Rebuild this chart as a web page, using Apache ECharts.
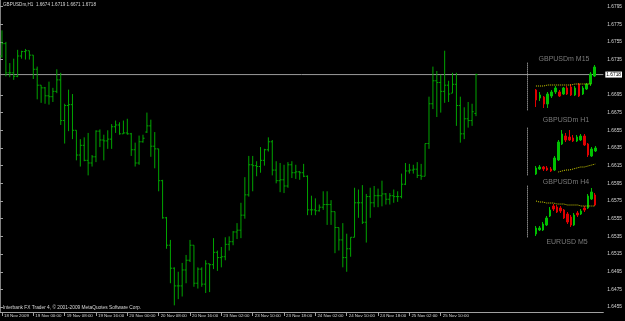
<!DOCTYPE html>
<html><head><meta charset="utf-8">
<script src="https://cdn.jsdelivr.net/npm/echarts@6/dist/echarts.min.js"></script>
<style>html,body{margin:0;padding:0;background:#000;}#c{width:625px;height:321px;}</style>
</head><body><div id="c"></div>
<script>
const symbolName = 'GBPUSDm,H1';
const tickLabels = ["18 Nov 2009","19 Nov 00:00","19 Nov 08:00","19 Nov 16:00","20 Nov 00:00","20 Nov 08:00","20 Nov 16:00","23 Nov 02:00","23 Nov 10:00","23 Nov 18:00","24 Nov 02:00","24 Nov 10:00","24 Nov 18:00","25 Nov 02:00","25 Nov 10:00","25 Nov 18:00"];
const priceTicks = [1.6795,1.6775,1.6755,1.6735,1.6695,1.6675,1.6655,1.6635,1.6615,1.6595,1.6575,1.6555,1.6535,1.6515,1.6495,1.6475,1.6455];

const open = [1.6739,1.6753,1.6720,1.6720,1.6716,1.6739,1.6744,1.6745,1.6740,1.6724,1.6706,1.6703,1.6694,1.6693,1.6699,1.6712,1.6666,1.6683,1.6684,1.6655,1.6627,1.6638,1.6621,1.6618,1.6625,1.6654,1.6644,1.6643,1.6645,1.6659,1.6661,1.6651,1.6652,1.6651,1.6633,1.6618,1.6642,1.6653,1.6660,1.6637,1.6634,1.6598,1.6556,1.6525,1.6499,1.6479,1.6479,1.6497,1.6508,1.6525,1.6482,1.6498,1.6481,1.6504,1.6503,1.6517,1.6511,1.6512,1.6526,1.6529,1.6540,1.6542,1.6559,1.6582,1.6616,1.6615,1.6614,1.6621,1.6633,1.6642,1.6610,1.6598,1.6599,1.6592,1.6616,1.6607,1.6608,1.6607,1.6603,1.6565,1.6565,1.6564,1.6568,1.6571,1.6571,1.6563,1.6545,1.6531,1.6511,1.6521,1.6534,1.6573,1.6573,1.6551,1.6580,1.6573,1.6581,1.6581,1.6583,1.6577,1.6581,1.6580,1.6580,1.6594,1.6609,1.6610,1.6611,1.6604,1.6603,1.6640,1.6685,1.6711,1.6709,1.6699,1.6706,1.6697,1.6707,1.6683,1.6651,1.6668,1.6666,1.6674];
const high = [1.6768,1.6755,1.6731,1.6736,1.6746,1.6745,1.6747,1.6745,1.6740,1.6727,1.6706,1.6704,1.6710,1.6703,1.6724,1.6720,1.6685,1.6701,1.6696,1.6655,1.6645,1.6647,1.6652,1.6627,1.6655,1.6656,1.6650,1.6655,1.6662,1.6666,1.6664,1.6666,1.6668,1.6652,1.6641,1.6649,1.6650,1.6675,1.6667,1.6653,1.6634,1.6599,1.6557,1.6531,1.6500,1.6495,1.6505,1.6514,1.6531,1.6525,1.6500,1.6500,1.6508,1.6504,1.6533,1.6519,1.6523,1.6534,1.6535,1.6541,1.6550,1.6573,1.6602,1.6626,1.6626,1.6620,1.6636,1.6634,1.6647,1.6644,1.6620,1.6618,1.6616,1.6619,1.6620,1.6616,1.6609,1.6617,1.6604,1.6581,1.6578,1.6571,1.6586,1.6586,1.6576,1.6563,1.6545,1.6550,1.6538,1.6534,1.6590,1.6588,1.6593,1.6583,1.6590,1.6592,1.6589,1.6598,1.6584,1.6584,1.6588,1.6586,1.6606,1.6618,1.6617,1.6616,1.6619,1.6617,1.6640,1.6693,1.6727,1.6722,1.6718,1.6745,1.6711,1.6720,1.6720,1.6693,1.6681,1.6687,1.6685,1.6719];
const low = [1.6737,1.6716,1.6715,1.6712,1.6715,1.6736,1.6735,1.6735,1.6713,1.6690,1.6686,1.6685,1.6684,1.6687,1.6697,1.6661,1.6640,1.6654,1.6645,1.6621,1.6614,1.6620,1.6604,1.6614,1.6619,1.6636,1.6621,1.6634,1.6634,1.6652,1.6650,1.6651,1.6650,1.6626,1.6614,1.6616,1.6641,1.6652,1.6625,1.6612,1.6586,1.6555,1.6521,1.6482,1.6457,1.6464,1.6467,1.6482,1.6506,1.6478,1.6476,1.6478,1.6471,1.6472,1.6498,1.6496,1.6500,1.6508,1.6519,1.6525,1.6532,1.6533,1.6555,1.6580,1.6586,1.6603,1.6607,1.6615,1.6631,1.6604,1.6595,1.6585,1.6584,1.6590,1.6601,1.6600,1.6599,1.6602,1.6559,1.6559,1.6559,1.6563,1.6565,1.6548,1.6548,1.6516,1.6519,1.6500,1.6495,1.6512,1.6534,1.6556,1.6549,1.6528,1.6556,1.6568,1.6568,1.6569,1.6571,1.6571,1.6573,1.6574,1.6578,1.6593,1.6606,1.6606,1.6601,1.6599,1.6603,1.6634,1.6679,1.6670,1.6675,1.6686,1.6687,1.6697,1.6660,1.6641,1.6645,1.6658,1.6660,1.6671];
const close = [1.6753,1.6720,1.6720,1.6716,1.6739,1.6744,1.6745,1.6740,1.6724,1.6706,1.6703,1.6694,1.6693,1.6699,1.6712,1.6666,1.6683,1.6684,1.6655,1.6627,1.6638,1.6621,1.6618,1.6625,1.6654,1.6644,1.6643,1.6645,1.6659,1.6661,1.6651,1.6652,1.6651,1.6633,1.6618,1.6642,1.6646,1.6660,1.6637,1.6634,1.6598,1.6556,1.6525,1.6499,1.6479,1.6479,1.6497,1.6508,1.6525,1.6482,1.6498,1.6481,1.6504,1.6503,1.6517,1.6511,1.6512,1.6526,1.6529,1.6540,1.6542,1.6559,1.6582,1.6616,1.6615,1.6614,1.6621,1.6633,1.6642,1.6610,1.6598,1.6599,1.6592,1.6616,1.6607,1.6608,1.6607,1.6603,1.6565,1.6565,1.6564,1.6568,1.6571,1.6571,1.6563,1.6545,1.6531,1.6511,1.6521,1.6534,1.6573,1.6573,1.6551,1.6580,1.6573,1.6581,1.6581,1.6583,1.6577,1.6581,1.6580,1.6580,1.6594,1.6609,1.6610,1.6611,1.6604,1.6603,1.6640,1.6685,1.6711,1.6709,1.6699,1.6706,1.6696,1.6707,1.6683,1.6651,1.6668,1.6666,1.6676,1.6718];

// mini charts (indicator panel)
const m15Open  = [1.6695,1.6687,1.6688,1.6681,1.6689,1.6693,1.6693,1.6691,1.6697,1.6698,1.6690,1.6701,1.6691,1.6696,1.6701,1.6709];
const m15Close = [1.6685,1.6690,1.6681,1.6691,1.6693,1.6697,1.6689,1.6697,1.6691,1.6690,1.6697,1.6689,1.6697,1.6701,1.6711,1.6718];
const m15Low   = [1.6678,1.6684,1.6677,1.6677,1.6687,1.6691,1.6688,1.6690,1.6690,1.6689,1.6689,1.6688,1.6690,1.6695,1.6699,1.6708];
const m15High  = [1.6696,1.6693,1.6689,1.6693,1.6695,1.6699,1.6695,1.6698,1.6699,1.6701,1.6699,1.6702,1.6699,1.6702,1.6713,1.6720];
const m15MA    = [1.6699,1.6699,1.6699,1.6700,1.6700,1.6700,1.6700,1.6700,1.6700,1.6700,1.6701,1.6701,1.6701,1.6701,1.6701,null];

const h1Open  = [1.6706,1.6711,1.6713,1.6712,1.6711,1.6710,1.6720,1.6736,1.6744,1.6743,1.6742,1.6739,1.6740,1.6744,1.6736,1.6724,1.6729];
const h1Close = [1.6712,1.6713,1.6711,1.6710,1.6709,1.6722,1.6738,1.6746,1.6740,1.6740,1.6739,1.6743,1.6744,1.6735,1.6725,1.6731,1.6732];
const h1Low   = [1.6705,1.6710,1.6709,1.6709,1.6708,1.6709,1.6719,1.6735,1.6738,1.6739,1.6738,1.6738,1.6739,1.6734,1.6723,1.6723,1.6728];
const h1High  = [1.6714,1.6715,1.6714,1.6714,1.6713,1.6724,1.6740,1.6750,1.6747,1.6750,1.6745,1.6745,1.6746,1.6746,1.6737,1.6733,1.6734];
const h1MA    = [null,null,null,null,null,null,1.6708,1.6709,1.6710,1.6710,1.6711,1.6712,1.6713,1.6713,1.6714,1.6715,1.6716];

const h4Open  = [1.6616,1.6620,1.6620,1.6625,1.6634,1.6644,1.6643,1.6642,1.6640,1.6636,1.6633,1.6625,1.6637,1.6636,1.6642,1.6642,1.6651,1.6655];
const h4Close = [1.6622,1.6622,1.6626,1.6632,1.6640,1.6641,1.6638,1.6639,1.6632,1.6628,1.6625,1.6635,1.6635,1.6639,1.6640,1.6654,1.6658,1.6645];
const h4Low   = [1.6614,1.6619,1.6619,1.6624,1.6633,1.6639,1.6637,1.6637,1.6631,1.6626,1.6623,1.6624,1.6633,1.6635,1.6638,1.6641,1.6650,1.6644];
const h4High  = [1.6624,1.6624,1.6628,1.6634,1.6643,1.6646,1.6645,1.6644,1.6641,1.6638,1.6635,1.6637,1.6639,1.6641,1.6644,1.6656,1.6662,1.6657];
const h4MA    = [1.6649,1.6648,1.6648,1.6647,1.6647,1.6647,1.6646,1.6646,1.6646,1.6645,1.6645,1.6645,1.6645,1.6644,1.6644,1.6644,1.6644,1.6644];

const miniTitles = ['GBPUSDm M15','GBPUSDm H1','GBPUSDm H4','EURUSD M5'];
const copyrightText = 'Interbank FX Trader 4, \u00a9 2001-2009 MetaQuotes Software Corp.';

const N = open.length;
const slots = 154; // bars + right shift space
const cats = [];
for (let i = 0; i < slots; i++) cats.push(String(i));
const ohlc = open.map((o, i) => [i, o, high[i], low[i], close[i]]);
const last = N - 1;
const FONT = 'Liberation Sans';
const AX = '#a0a0a0';
const TXT = '#d8d8d8';
const BAR = '#00a400';

const showTick = (idx) => idx % 8 === 0 && idx / 8 < tickLabels.length;

function renderBar(params, api) {
  const i = api.value(0);
  const o = api.coord([i, api.value(1)]);
  const h = api.coord([i, api.value(2)]);
  const l = api.coord([i, api.value(3)]);
  const c = api.coord([i, api.value(4)]);
  const x = h[0];
  const st = { stroke: BAR, lineWidth: 1 };
  return { type: 'group', children: [
    { type: 'line', shape: { x1: x, y1: h[1], x2: x, y2: l[1] }, style: st },
    { type: 'line', shape: { x1: x - 1.6, y1: o[1], x2: x, y2: o[1] }, style: st },
    { type: 'line', shape: { x1: x, y1: c[1], x2: x + 1.6, y2: c[1] }, style: st }
  ]};
}

function candles(o, c, l, h) { return o.map((v, i) => [v, c[i], l[i], h[i]]); }
const candleStyle = { color: '#00c000', color0: '#e00000', borderColor: '#00c000', borderColor0: '#e00000', borderWidth: 1 };
const maStyle = { color: '#d0d000', width: 1, type: 'dotted' };

const chart = echarts.init(document.getElementById('c'), null, { renderer: 'canvas' });
const miniY = (gi, mn, mx) => ({ gridIndex: gi, type: 'value', min: mn, max: mx, offset: 7, position: 'left',
  axisLine: { show: true, lineStyle: { color: '#808080', type: 'dotted' } }, axisTick: { show: false },
  axisLabel: { show: false }, splitLine: { show: false } });
const miniX = (gi, n) => ({ gridIndex: gi, type: 'category', data: Array.from({ length: n }, (_, k) => k), boundaryGap: true, show: false });

chart.setOption({
  animation: false,
  backgroundColor: '#000000',
  grid: [
    { left: 0, top: 0, width: 606, height: 312 },
    { left: 534, top: 63, width: 62.4, height: 47 },
    { left: 534.1, top: 127, width: 63.2, height: 48 },
    { left: 534.3, top: 185, width: 62.5, height: 52 }
  ],
  xAxis: [
    { gridIndex: 0, type: 'category', data: cats, boundaryGap: true,
      axisLine: { show: true, lineStyle: { color: AX } },
      axisTick: { show: true, interval: showTick, alignWithLabel: true, length: 4, lineStyle: { color: AX } },
      axisLabel: { interval: showTick, formatter: (v, idx) => tickLabels[Number(v) / 8] || '', align: 'left',
        padding: [0, 0, 0, 2], margin: 2, fontSize: 4.4, color: TXT, fontFamily: FONT,
        showMinLabel: true, showMaxLabel: false, hideOverlap: false },
      splitLine: { show: false } },
    { gridIndex: 0, type: 'value', min: 0, max: 1, show: false },
    miniX(1, m15Open.length), miniX(2, h1Open.length), miniX(3, h4Open.length)
  ],
  yAxis: [
    { gridIndex: 0, type: 'value', position: 'right', min: 1.644948, max: 1.680235, scale: true,
      axisLine: { show: true, lineStyle: { color: AX } },
      axisTick: { show: true, customValues: priceTicks, length: 3, lineStyle: { color: AX } },
      axisLabel: { show: true, customValues: priceTicks, formatter: (v) => Number(v).toFixed(4), fontSize: 4.8, color: TXT, margin: 4, fontFamily: FONT },
      splitLine: { show: false } },
    { gridIndex: 0, type: 'value', position: 'left', min: 1.644948, max: 1.680235, scale: true,
      axisLine: { show: true, lineStyle: { color: '#808080' } }, axisTick: { show: false }, axisLabel: { show: false }, splitLine: { show: false } },
    miniY(1, 1.6675, 1.6722), miniY(2, 1.6705, 1.6753), miniY(3, 1.6613, 1.6665)
  ],
  series: [
    { type: 'custom', xAxisIndex: 0, yAxisIndex: 0, renderItem: renderBar, data: ohlc, encode: { x: 0, y: [1, 2, 3, 4] }, clip: false, z: 3 },
    { type: 'line', xAxisIndex: 1, yAxisIndex: 0, data: [[0, close[last]], [1, close[last]]], symbol: 'none', silent: true, z: 2,
      lineStyle: { color: '#9a9a9a', width: 1 },
      endLabel: { show: true, formatter: () => close[last].toFixed(4), backgroundColor: '#ffffff', color: '#000000',
        fontSize: 4.8, fontFamily: FONT, padding: [1, 1, 0, 1], distance: 2 } },
    { type: 'candlestick', xAxisIndex: 2, yAxisIndex: 2, data: candles(m15Open, m15Close, m15Low, m15High), barWidth: 2, itemStyle: candleStyle, z: 4 },
    { type: 'line', xAxisIndex: 2, yAxisIndex: 2, data: m15MA, symbol: 'none', lineStyle: maStyle, z: 5 },
    { type: 'candlestick', xAxisIndex: 3, yAxisIndex: 3, data: candles(h1Open, h1Close, h1Low, h1High), barWidth: 2, itemStyle: candleStyle, z: 4 },
    { type: 'line', xAxisIndex: 3, yAxisIndex: 3, data: h1MA, symbol: 'none', lineStyle: maStyle, z: 5 },
    { type: 'candlestick', xAxisIndex: 4, yAxisIndex: 4, data: candles(h4Open, h4Close, h4Low, h4High), barWidth: 2, itemStyle: candleStyle, z: 4 },
    { type: 'line', xAxisIndex: 4, yAxisIndex: 4, data: h4MA, symbol: 'none', lineStyle: maStyle, z: 5 }
  ],
  graphic: [
    { type: 'text', x: 3, y: 5, z: 10, style: { text: symbolName + '  ' + [open[last], high[last], low[last], close[last]].map(v => v.toFixed(4)).join(' '),
      fill: TXT, font: '4.6px "' + FONT + '"', verticalAlign: 'middle' } },
    { type: 'text', x: 3, y: 307.5, z: 10, style: { text: copyrightText, fill: TXT, font: '4.8px "' + FONT + '"', verticalAlign: 'middle' } },
    { type: 'text', x: 564, y: 59, z: 10, style: { text: miniTitles[0], fill: '#7a7a7a', font: '7px "' + FONT + '"', align: 'center', verticalAlign: 'middle' } },
    { type: 'text', x: 566, y: 120, z: 10, style: { text: miniTitles[1], fill: '#7a7a7a', font: '7px "' + FONT + '"', align: 'center', verticalAlign: 'middle' } },
    { type: 'text', x: 566, y: 182, z: 10, style: { text: miniTitles[2], fill: '#7a7a7a', font: '7px "' + FONT + '"', align: 'center', verticalAlign: 'middle' } },
    { type: 'text', x: 567, y: 242, z: 10, style: { text: miniTitles[3], fill: '#7a7a7a', font: '7px "' + FONT + '"', align: 'center', verticalAlign: 'middle' } }
  ]
});
</script>
</body></html>
